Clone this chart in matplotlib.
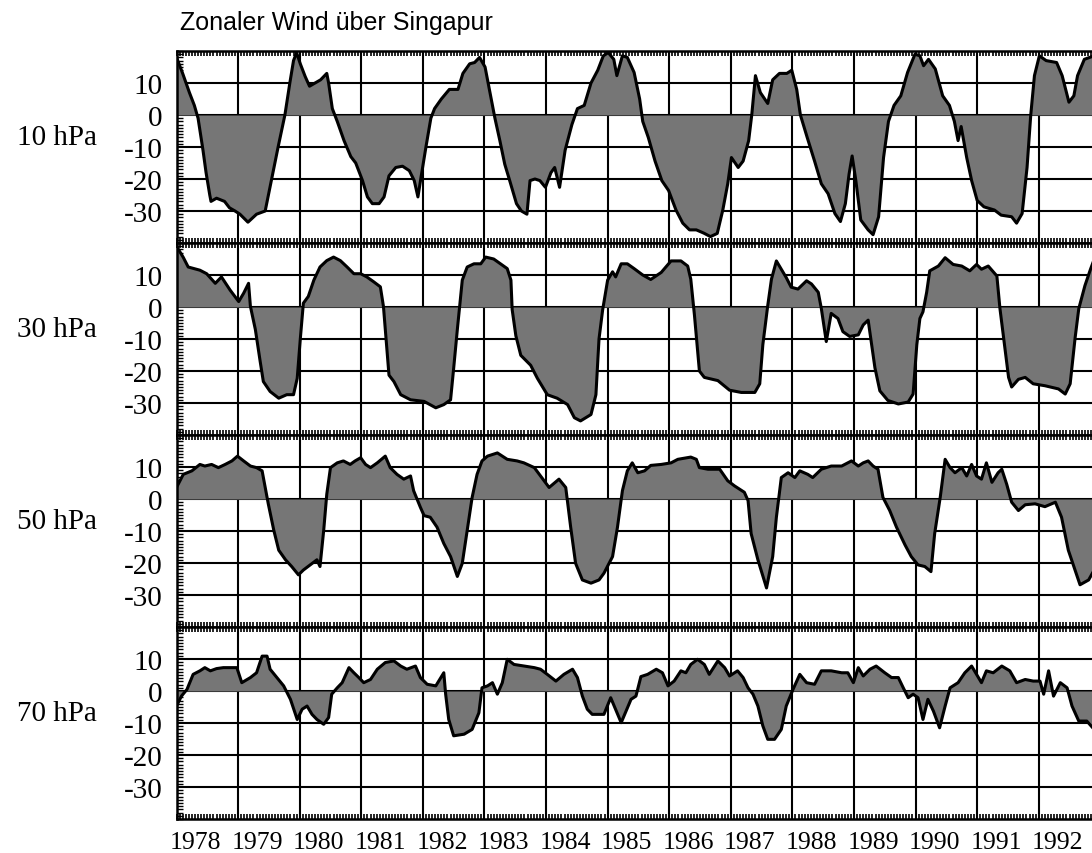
import matplotlib
matplotlib.use("Agg")
import matplotlib.pyplot as plt
import matplotlib.transforms as mtransforms
from matplotlib.ticker import MultipleLocator
import numpy as np

# zonal wind (m/s) at Singapore, decimal year vs. value
t10 = [
    1978.00, 1978.10, 1978.21, 1978.29, 1978.35, 1978.43, 1978.48, 1978.54, 1978.56, 1978.65, 1978.78, 1978.86, 1978.95,
    1979.03, 1979.16, 1979.30, 1979.44, 1979.54, 1979.65, 1979.76, 1979.84, 1979.90, 1979.95,
    1980.01, 1980.09, 1980.16, 1980.25, 1980.34, 1980.44, 1980.47, 1980.53, 1980.61, 1980.72, 1980.83, 1980.91,
    1981.02, 1981.10, 1981.18, 1981.29, 1981.37, 1981.45, 1981.56, 1981.67, 1981.78, 1981.86, 1981.92, 1981.97,
    1982.05, 1982.13, 1982.19, 1982.30, 1982.43, 1982.57, 1982.65, 1982.76, 1982.84, 1982.92,
    1983.01, 1983.06, 1983.11, 1983.17, 1983.25, 1983.33, 1983.41, 1983.52, 1983.60, 1983.69, 1983.74, 1983.82, 1983.90, 1983.99,
    1984.08, 1984.14, 1984.22, 1984.31, 1984.42, 1984.51, 1984.62, 1984.73, 1984.84, 1984.93,
    1985.01, 1985.10, 1985.15, 1985.24, 1985.32, 1985.43, 1985.52, 1985.57, 1985.66, 1985.77, 1985.88, 1985.99,
    1986.11, 1986.22, 1986.33, 1986.44, 1986.56, 1986.67, 1986.78, 1986.87, 1986.95,
    1987.01, 1987.12, 1987.20, 1987.29, 1987.34, 1987.40, 1987.48, 1987.60, 1987.68, 1987.79, 1987.91, 1987.99,
    1988.07, 1988.13, 1988.24, 1988.36, 1988.47, 1988.58, 1988.69, 1988.78, 1988.86, 1988.92, 1988.97,
    1989.03, 1989.11, 1989.23, 1989.31, 1989.40, 1989.48, 1989.56, 1989.65, 1989.76, 1989.87, 1989.99,
    1990.07, 1990.13, 1990.21, 1990.32, 1990.44, 1990.55, 1990.63, 1990.69, 1990.74, 1990.83, 1990.91,
    1991.00, 1991.11, 1991.28, 1991.39, 1991.56, 1991.64, 1991.73, 1991.81, 1991.87, 1991.93,
    1992.01, 1992.12, 1992.29, 1992.38, 1992.49, 1992.57, 1992.63, 1992.74, 1992.90,
]
u10 = [
    18, 13, 7, 3, -1, -11, -18, -25, -27, -26, -27, -29, -30,
    -31, -33.5, -31, -30, -20.5, -10, 0, 10, 17, 19.5,
    16, 12, 9, 10, 11, 13, 10, 2, -2, -8, -13, -15,
    -20.5, -25.6, -27.7, -27.7, -25.6, -19, -16.4, -16, -17.4, -20.5, -25.6, -19.5,
    -10, -1, 2, 5, 8, 8, 13, 16, 16.4, 18,
    15, 10, 5, -1, -8, -15.4, -20.5, -27.7, -30, -31, -20.5, -20, -20.5, -22.6,
    -18, -16.4, -22.6, -11, -3, 2, 3, 10, 14, 18.5,
    19.5, 17.4, 12.3, 18.5, 18, 13.3, 5, -2, -7, -14.4, -20.5, -23.6,
    -29.7, -33.8, -35.9, -35.9, -36.9, -38, -37, -29.7, -21.5,
    -13.3, -16.4, -14.4, -8, 0, 12.3, 7, 3.6, 11, 13, 13, 14,
    8, 0, -7, -14.4, -21.5, -24.6, -30.8, -33.3, -27.7, -18.5, -12.8,
    -20.5, -32.8, -35.9, -37.4, -31.8, -13.3, -2, 3, 6, 13.3, 19,
    18.5, 15.4, 17.4, 14.4, 6, 3, -2, -8, -3.6, -13.3, -20.5,
    -26.7, -28.7, -29.7, -31.3, -31.8, -33.8, -30.8, -16.4, 0, 12.3,
    18.5, 17, 16.4, 12.3, 4, 6, 12.3, 17.4, 18.5,
]

t30 = [
    1978.00, 1978.11, 1978.19, 1978.38, 1978.49, 1978.63, 1978.73, 1978.87,
    1979.01, 1979.09, 1979.17, 1979.20, 1979.28, 1979.36, 1979.41, 1979.52, 1979.66, 1979.79, 1979.90, 1979.96,
    1980.01, 1980.06, 1980.14, 1980.23, 1980.33, 1980.44, 1980.55, 1980.66, 1980.77, 1980.88, 1980.99,
    1981.09, 1981.20, 1981.31, 1981.36, 1981.39, 1981.45, 1981.53, 1981.64, 1981.80,
    1982.02, 1982.21, 1982.34, 1982.45, 1982.50, 1982.56, 1982.64, 1982.72, 1982.83, 1982.94,
    1983.02, 1983.15, 1983.26, 1983.37, 1983.43, 1983.45, 1983.51, 1983.59, 1983.75, 1983.86,
    1984.02, 1984.18, 1984.35, 1984.46, 1984.56, 1984.73, 1984.81, 1984.86, 1984.92,
    1985.00, 1985.08, 1985.13, 1985.22, 1985.32, 1985.43, 1985.57, 1985.70, 1985.87,
    1986.03, 1986.19, 1986.30, 1986.35, 1986.41, 1986.49, 1986.57, 1986.79, 1986.98,
    1987.17, 1987.39, 1987.47, 1987.52, 1987.60, 1987.66, 1987.74, 1987.82, 1987.90, 1987.98,
    1988.09, 1988.23, 1988.31, 1988.42, 1988.47, 1988.55, 1988.63, 1988.74, 1988.82, 1988.93,
    1989.07, 1989.15, 1989.23, 1989.28, 1989.34, 1989.42, 1989.55, 1989.72, 1989.88, 1989.96,
    1990.02, 1990.07, 1990.12, 1990.18, 1990.23, 1990.37, 1990.48, 1990.61, 1990.75, 1990.88, 1990.99,
    1991.07, 1991.18, 1991.32, 1991.37, 1991.43, 1991.51, 1991.56, 1991.67, 1991.78, 1991.91,
    1992.10, 1992.32, 1992.43, 1992.51, 1992.59, 1992.65, 1992.75, 1992.84, 1992.90,
]
u30 = [
    19, 15.5, 12.5, 11.5, 10.4, 7.4, 9.4, 5.3,
    1.7, 4.3, 7.4, 0.2, -7, -17.2, -23.3, -26.4, -28.5, -27.4, -27.4, -22.3,
    -10, 1.2, 3.3, 8.4, 12.5, 14.5, 15.6, 14.5, 12.5, 10.4, 10.4,
    9.4, 7.9, 6.3, 0.2, -7, -21.3, -23.3, -27.4, -29,
    -29.5, -31.5, -30.5, -29, -19.2, -7, 8.4, 12.5, 13.5, 13.5,
    15.6, 15, 13.5, 12, 8.4, -0.8, -9, -15.1, -18.2, -22.3,
    -27.4, -28.5, -30.5, -34.6, -35.6, -33.6, -27.4, -10, -0.8,
    8.4, 11, 9.4, 13.5, 13.5, 12, 10, 8.6, 10.8,
    14.4, 14.4, 12.8, 8.7, -2.6, -20, -22, -23, -26,
    -26.7, -26.7, -24, -11.8, 0.5, 8.7, 14.4, 11.8, 9.2, 6.2,
    5.6, 8.2, 7.2, 4.6, -0.5, -10.8, -2, -3.6, -7.7, -9.2,
    -8.7, -5.6, -4.1, -10.8, -19, -26.2, -29.2, -30.3, -29.7, -27.2,
    -11.8, -3.6, -1.5, 4.6, 11.3, 12.8, 15.4, 13.3, 12.8, 11.3, 13.3,
    11.8, 12.8, 9.7, -0.5, -9.7, -22, -25, -22.6, -22, -24,
    -24.6, -25.6, -27.2, -24, -9.7, -0.5, 6.7, 11.8, 14.9,
]

t50 = [
    1978.00, 1978.11, 1978.25, 1978.38, 1978.46, 1978.57, 1978.68, 1978.79, 1978.90, 1978.99,
    1979.09, 1979.20, 1979.30, 1979.39, 1979.44, 1979.49, 1979.58, 1979.66, 1979.77, 1979.87, 1979.98,
    1980.06, 1980.17, 1980.28, 1980.33, 1980.39, 1980.44, 1980.50, 1980.61, 1980.71, 1980.82, 1980.90, 1980.99,
    1981.07, 1981.15, 1981.26, 1981.39, 1981.47, 1981.58, 1981.69, 1981.80, 1981.85, 1981.96,
    1982.02, 1982.12, 1982.23, 1982.34, 1982.45, 1982.56, 1982.64, 1982.72, 1982.80, 1982.88, 1982.96,
    1983.05, 1983.21, 1983.37, 1983.53, 1983.64, 1983.81, 1983.91,
    1984.05, 1984.21, 1984.32, 1984.40, 1984.48, 1984.59, 1984.73, 1984.86, 1984.94,
    1985.08, 1985.16, 1985.24, 1985.32, 1985.40, 1985.49, 1985.60, 1985.70, 1985.87,
    1986.03, 1986.14, 1986.35, 1986.44, 1986.49, 1986.63, 1986.82, 1986.95,
    1987.06, 1987.22, 1987.28, 1987.33, 1987.44, 1987.58, 1987.68, 1987.74, 1987.82, 1987.93,
    1988.04, 1988.12, 1988.25, 1988.33, 1988.47, 1988.63, 1988.80, 1988.96,
    1989.07, 1989.15, 1989.23, 1989.31, 1989.39, 1989.47, 1989.58, 1989.69, 1989.83, 1989.93,
    1990.04, 1990.15, 1990.25, 1990.31, 1990.40, 1990.48, 1990.56, 1990.64, 1990.75, 1990.83, 1990.91, 1990.99,
    1991.07, 1991.15, 1991.24, 1991.34, 1991.40, 1991.48, 1991.56, 1991.67, 1991.78, 1991.94,
    1992.10, 1992.27, 1992.37, 1992.48, 1992.59, 1992.67, 1992.81, 1992.90,
]
u50 = [
    3.6, 7.7, 8.8, 10.8, 10.3, 10.8, 9.8, 10.8, 11.9, 13.4,
    11.9, 10.3, 9.8, 8.8, 3.6, -1.5, -9.8, -16, -19, -21.1, -23.7,
    -22.2, -20.6, -19, -21.1, -9.8, 1.5, 9.8, 11.3, 11.9, 10.8, 11.9, 12.9,
    10.8, 9.8, 11.3, 13.4, 9.8, 7.7, 6.2, 7.2, 2.6, -2.6,
    -5.2, -5.7, -8.8, -13.9, -18, -24.2, -20.1, -9.8, 0.5, 7.7, 11.9,
    13.4, 14.4, 12.4, 11.9, 11.3, 9.8, 7.2,
    3.6, 6.2, 3.6, -8.8, -20.1, -25.3, -26.3, -25.3, -23.2,
    -18, -8.8, 2.6, 8.8, 11.3, 8.2, 8.8, 10.5, 10.8,
    11.3, 12.4, 13.1, 12.4, 9.8, 9.3, 9.3, 5.7,
    4.1, 2.1, -0.5, -10.8, -19, -27.8, -18, -5.7, 6.7, 8.2,
    6.7, 8.8, 7.7, 6.7, 9.3, 10.3, 10.3, 11.9,
    10.3, 11.3, 11.9, 10.3, 9.3, 0.5, -3.6, -8.8, -14.4, -18,
    -20.6, -21.1, -22.7, -10.8, 0.5, 12.4, 9.8, 8.2, 9.8, 7.2, 10.8, 7.2,
    6.2, 11.3, 5.2, 8.2, 9.3, 4.6, -1, -3.6, -1.8, -1.5,
    -2.4, -1, -5.7, -16, -22.2, -26.8, -25.3, -22.2,
]

t70 = [
    1978.00, 1978.08, 1978.17, 1978.27, 1978.38, 1978.46, 1978.55, 1978.65, 1978.76, 1978.90, 1978.98,
    1979.06, 1979.20, 1979.30, 1979.39, 1979.47, 1979.52, 1979.63, 1979.74, 1979.85, 1979.96,
    1980.04, 1980.12, 1980.20, 1980.28, 1980.39, 1980.47, 1980.52, 1980.61, 1980.69, 1980.80, 1980.88, 1980.96,
    1981.04, 1981.15, 1981.26, 1981.39, 1981.53, 1981.64, 1981.74, 1981.88, 1981.96,
    1982.07, 1982.21, 1982.34, 1982.37, 1982.42, 1982.50, 1982.67, 1982.80, 1982.91, 1982.96,
    1983.05, 1983.13, 1983.21, 1983.29, 1983.37, 1983.48, 1983.64, 1983.81, 1983.91,
    1984.02, 1984.16, 1984.29, 1984.43, 1984.51, 1984.59, 1984.67, 1984.75, 1984.94,
    1985.05, 1985.22, 1985.38, 1985.46, 1985.54, 1985.65, 1985.79, 1985.89, 1985.98,
    1986.08, 1986.19, 1986.27, 1986.35, 1986.46, 1986.57, 1986.65, 1986.79, 1986.90, 1986.98,
    1987.11, 1987.20, 1987.28, 1987.36, 1987.44, 1987.52, 1987.60, 1987.71, 1987.82, 1987.90,
    1988.01, 1988.12, 1988.23, 1988.36, 1988.47, 1988.63, 1988.80, 1988.90, 1988.99,
    1989.07, 1989.15, 1989.26, 1989.36, 1989.50, 1989.61, 1989.72, 1989.80, 1989.88, 1989.96,
    1990.04, 1990.12, 1990.20, 1990.29, 1990.39, 1990.48, 1990.56, 1990.69, 1990.80, 1990.91, 1990.99,
    1991.07, 1991.15, 1991.26, 1991.40, 1991.53, 1991.64, 1991.78, 1991.91,
    1992.02, 1992.08, 1992.16, 1992.24, 1992.35, 1992.46, 1992.54, 1992.65, 1992.78, 1992.90,
]
u70 = [
    -4.7, -1.6, 0.5, 5.2, 6.3, 7.3, 6.3, 7, 7.3, 7.3, 7.3,
    2.6, 4.2, 5.7, 10.9, 10.9, 6.8, 4.2, 1.6, -2.6, -8.9,
    -5.7, -4.7, -7.3, -8.9, -10.4, -8.3, -1, 1, 2.6, 7.3, 5.7, 4.2,
    2.6, 3.6, 6.8, 8.9, 9.4, 7.8, 6.8, 7.8, 4.2,
    2.1, 1.6, 5.7, -1, -8.9, -14, -13.5, -12, -6.8, 1,
    1.6, 2.6, -1, 2.6, 9.9, 8.3, 7.8, 7.3, 6.8,
    5.2, 3.1, 5.2, 6.8, 4.2, -1.6, -5.7, -7.3, -7.3,
    -2.1, -9.9, -2.6, -1.6, 4.5, 5.2, 6.8, 5.7, 1.6,
    3.1, 6.3, 5.7, 8.3, 9.9, 8.3, 5.2, 9.4, 7.3, 4.7,
    6.3, 4.2, 1, -1, -4.7, -10.9, -15.1, -15.1, -12, -4.7,
    0.5, 5.2, 2.6, 2.1, 6.3, 6.3, 5.7, 5.7, 2.6,
    7.3, 4.7, 6.8, 7.8, 5.7, 4.2, 4.2, 1, -2.1, -1,
    -2.1, -8.9, -2.6, -6.3, -11.5, -4.7, 1, 2.6, 5.7, 7.8, 5.2,
    2.6, 6.3, 5.7, 7.8, 6.3, 2.6, 3.6, 3.1,
    3.1, -1, 6.3, -1.6, 2.6, 1, -4.7, -9.4, -9.4, -12,
]

levels = ["10 hPa", "30 hPa", "50 hPa", "70 hPa"]
series = [(t10, u10), (t30, u30), (t50, u50), (t70, u70)]
years = list(range(1978, 1993))
yticks = [10, 0, -10, -20, -30]
ytick_labels = ["10", "0", "-10", "-20", "-30"]
title = "Zonaler Wind über Singapur"

serif = "Liberation Serif"
W, H = 1092, 854
fig = plt.figure(figsize=(W / 100, H / 100), dpi=100)

x0 = 176.5
top0 = 52
panel_h = 192
fill_col = "#767676"

axes = []
for i, (lev, (t, u)) in enumerate(zip(levels, series)):
    top = top0 + i * panel_h
    ax = fig.add_axes([x0 / W, 1 - (top + panel_h) / H, (W - x0) / W + 0.002, panel_h / H])
    axes.append(ax)
    t = np.asarray(t)
    u = np.asarray(u)

    # year grid and wind grid sit under the shaded curve
    for yr in years[1:]:
        ax.axvline(yr, color="black", lw=1.5, zorder=1)
    for yv in yticks:
        ax.axhline(yv, color="black", lw=1.5, zorder=1)

    ax.fill_between(t, u, 0, color=fill_col, lw=0, interpolate=True, zorder=2)
    ax.plot(t, u, color="black", lw=2.2, zorder=3, solid_joinstyle="round")

    ax.set_xlim(1978, 1992.9)
    ax.set_ylim(-40, 20)

    ax.set_yticks(yticks)
    ax.set_yticklabels(ytick_labels, family=serif, fontsize=21)
    ax.yaxis.set_minor_locator(MultipleLocator(1))
    ax.tick_params(axis="y", which="major", length=0, pad=10)
    ax.tick_params(axis="y", which="minor", direction="in", length=4, width=1.0)

    # year labels sit just right of each year boundary
    ax.set_xticks([y + 0.31 for y in years])
    if i == len(levels) - 1:
        ax.set_xticklabels([str(y) for y in years], family=serif, fontsize=18.5)
    else:
        ax.set_xticklabels([])
    ax.xaxis.set_minor_locator(MultipleLocator(1 / 20))
    ax.tick_params(axis="x", which="major", length=0, pad=9)
    ax.tick_params(axis="x", which="minor", direction="in", length=3.5, width=1.2,
                   top=True, bottom=True)

    for side in ("top", "bottom", "left"):
        ax.spines[side].set_linewidth(1.8)
        ax.spines[side].set_color("black")
    ax.spines["right"].set_visible(False)

    trans = mtransforms.blended_transform_factory(fig.transFigure, ax.transData)
    ax.text(17 / W, -7, lev, transform=trans, ha="left", va="center",
            family=serif, fontsize=21)

fig.text(180 / W, 1 - 30 / H, title, family="Liberation Sans", fontsize=18,
         ha="left", va="baseline")

fig.savefig("out.png", dpi=100)
